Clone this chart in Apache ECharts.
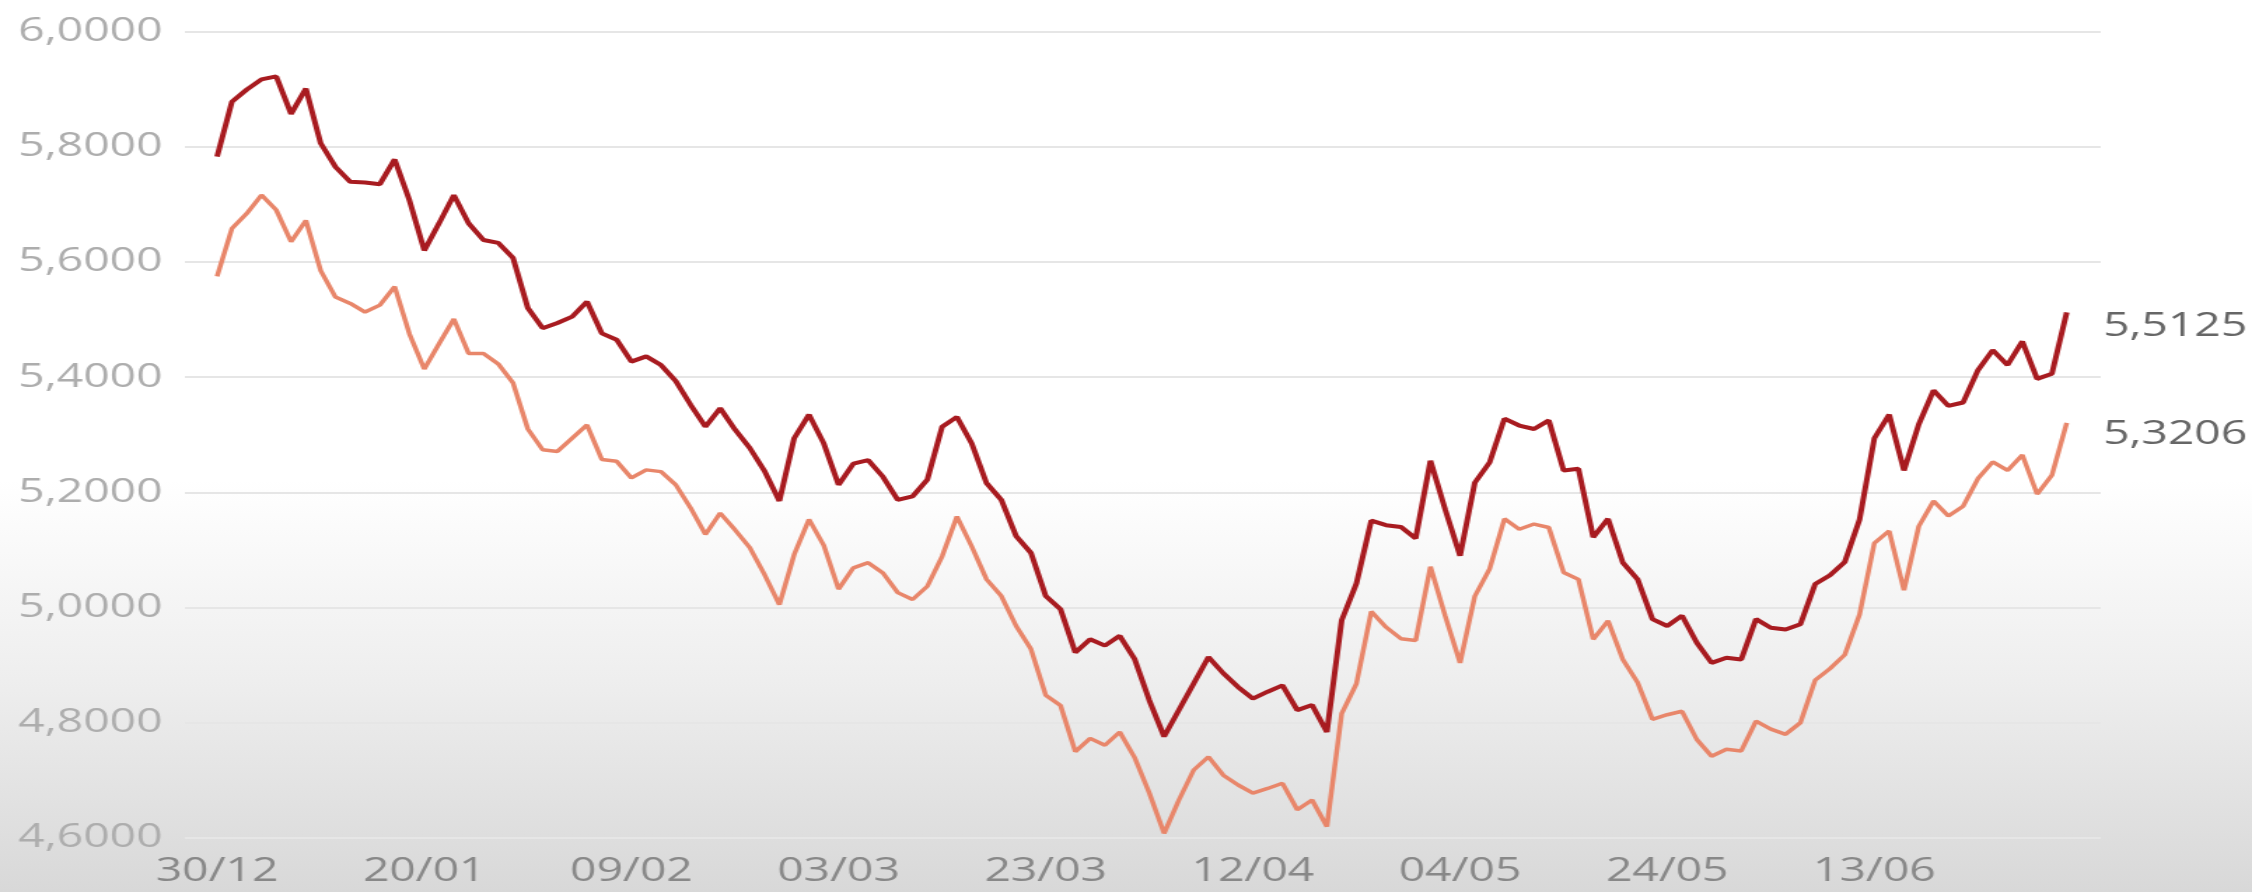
<!DOCTYPE html>
<html>
<head>
<meta charset="utf-8">
<script src="https://cdn.jsdelivr.net/npm/echarts@6/dist/echarts.min.js"></script>
<style>
html,body{margin:0;padding:0;width:2252px;height:892px;overflow:hidden;
  background:linear-gradient(to bottom,#ffffff 0px,#ffffff 480px,#eeeeee 680px,#d8d8d8 892px);}
#chart{width:1608px;height:892px;transform:scaleX(1.4005);transform-origin:0 0;}
</style>
</head>
<body>
<div id="chart"></div>
<script>
const dates = [
  '30/12',
  '03/01','04/01','05/01','06/01','07/01','10/01','11/01','12/01','13/01','14/01','17/01','18/01','19/01','20/01',
  '21/01','24/01','25/01','26/01','27/01','28/01','31/01','01/02','02/02','03/02','04/02','07/02','08/02','09/02',
  '10/02','11/02','14/02','15/02','16/02','17/02','18/02','21/02','22/02','23/02','24/02','25/02','02/03','03/03',
  '04/03','07/03','08/03','09/03','10/03','11/03','14/03','15/03','16/03','17/03','18/03','21/03','22/03','23/03',
  '24/03','25/03','28/03','29/03','30/03','31/03','01/04','04/04','05/04','06/04','07/04','08/04','11/04','12/04',
  '13/04','14/04','18/04','19/04','20/04','22/04','25/04','26/04','27/04','28/04','29/04','02/05','03/05','04/05',
  '05/05','06/05','09/05','10/05','11/05','12/05','13/05','16/05','17/05','18/05','19/05','20/05','23/05','24/05',
  '25/05','26/05','27/05','30/05','31/05','01/06','02/06','03/06','06/06','07/06','08/06','09/06','10/06','13/06',
  '14/06','15/06','17/06','20/06','21/06','22/06','23/06','24/06','27/06','28/06','29/06','30/06','01/07'
];

const upperSeries = [
  5.783,5.878,5.899,5.917,5.922,5.857,5.901,5.806,5.765,5.739,5.738,5.735,5.778,5.707,5.620,
  5.667,5.716,5.667,5.638,5.633,5.607,5.520,5.485,5.494,5.505,5.531,5.476,5.465,5.427,
  5.436,5.421,5.393,5.352,5.314,5.346,5.309,5.277,5.237,5.185,5.294,5.335,5.285,5.213,
  5.250,5.256,5.227,5.187,5.193,5.222,5.314,5.331,5.285,5.216,5.187,5.124,5.095,5.020,
  4.997,4.922,4.945,4.934,4.951,4.911,4.839,4.776,4.822,4.868,4.914,4.886,4.862,4.842,
  4.854,4.865,4.822,4.831,4.784,4.978,5.042,5.151,5.143,5.140,5.120,5.255,5.170,5.090,
  5.217,5.252,5.328,5.316,5.310,5.325,5.238,5.241,5.122,5.154,5.078,5.049,4.980,4.968,
  4.986,4.939,4.904,4.913,4.910,4.980,4.965,4.962,4.971,5.041,5.056,5.079,5.153,5.294,
  5.335,5.238,5.318,5.377,5.350,5.356,5.412,5.447,5.421,5.462,5.397,5.406,5.5125
];

const lowerSeries = [
  5.575,5.658,5.684,5.716,5.690,5.635,5.672,5.585,5.539,5.528,5.513,5.525,5.557,5.475,5.414,
  5.458,5.501,5.441,5.441,5.423,5.390,5.310,5.274,5.271,5.294,5.317,5.257,5.254,5.225,
  5.239,5.236,5.213,5.173,5.127,5.164,5.135,5.104,5.057,5.005,5.092,5.153,5.108,5.032,
  5.069,5.078,5.060,5.026,5.014,5.037,5.089,5.158,5.106,5.049,5.020,4.968,4.928,4.848,
  4.830,4.750,4.773,4.761,4.784,4.740,4.678,4.608,4.666,4.718,4.741,4.709,4.692,4.678,
  4.686,4.695,4.649,4.666,4.620,4.816,4.868,4.993,4.966,4.946,4.943,5.071,4.985,4.904,
  5.020,5.067,5.154,5.136,5.145,5.139,5.061,5.049,4.945,4.977,4.910,4.870,4.806,4.814,
  4.820,4.771,4.742,4.754,4.751,4.803,4.789,4.780,4.800,4.874,4.894,4.918,4.988,5.112,
  5.133,5.030,5.141,5.185,5.159,5.176,5.224,5.253,5.238,5.265,5.197,5.230,5.3206
];

const yMin = 4.6, yMax = 6.0, yStep = 0.2;
const labelEvery = 14;

const fmt = v => Number(v).toFixed(4).replace('.', ',');
const font = '"Open Sans", "Noto Sans", sans-serif';

const chart = echarts.init(document.getElementById('chart'), null, {renderer: 'canvas'});
chart.setOption({
  animation: false,
  backgroundColor: 'transparent',
  textStyle: {fontFamily: font},
  grid: [
    {left: 132, right: 108, top: 31.5, bottom: 54, containLabel: false},
    {left: 155, right: 132.3, top: 31.5, bottom: 54, containLabel: false}
  ],
  xAxis: [
    {type: 'value', gridIndex: 0, show: false, min: 0, max: 1},
    {
      type: 'category', gridIndex: 1, data: dates, boundaryGap: false,
      axisLine: {show: false}, axisTick: {show: false}, splitLine: {show: false},
      axisLabel: {interval: labelEvery - 1, color: '#888888', fontSize: 33, margin: 17, fontFamily: font}
    }
  ],
  yAxis: [
    {
      type: 'value', gridIndex: 0, min: yMin, max: yMax, interval: yStep,
      axisLine: {show: false}, axisTick: {show: false},
      splitLine: {show: true, lineStyle: {color: '#e6e6e6', width: 2}},
      axisLabel: {formatter: fmt, color: '#adadad', fontSize: 33, margin: 16, fontFamily: font}
    },
    {type: 'value', gridIndex: 1, min: yMin, max: yMax, show: false, splitLine: {show: false}}
  ],
  series: [
    {
      name: 'Dólar turismo', type: 'line', xAxisIndex: 1, yAxisIndex: 1,
      data: upperSeries, showSymbol: false, symbol: 'none', smooth: false,
      lineStyle: {color: '#a81b20', width: 4}, itemStyle: {color: '#a81b20'},
      endLabel: {show: true, formatter: p => fmt(p.value), color: '#666666', fontSize: 33,
                 fontFamily: font, distance: 26, offset: [0, 14]},
      z: 3
    },
    {
      name: 'Dólar comercial', type: 'line', xAxisIndex: 1, yAxisIndex: 1,
      data: lowerSeries, showSymbol: false, symbol: 'none', smooth: false,
      lineStyle: {color: '#e8866a', width: 3.5}, itemStyle: {color: '#e8866a'},
      endLabel: {show: true, formatter: p => fmt(p.value), color: '#666666', fontSize: 33,
                 fontFamily: font, distance: 26, offset: [0, 12]},
      z: 2
    }
  ]
});
</script>
</body>
</html>
